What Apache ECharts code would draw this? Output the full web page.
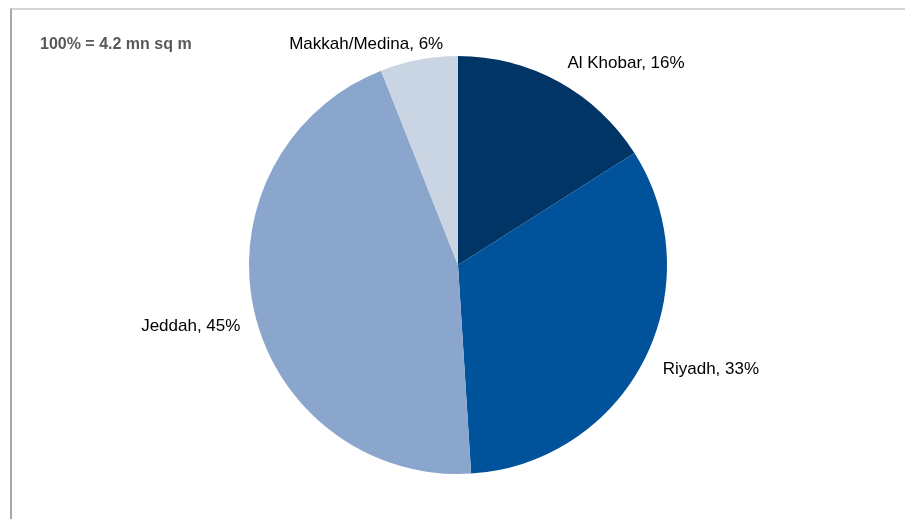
<!DOCTYPE html>
<html>
<head>
<meta charset="utf-8">
<script src="https://cdn.jsdelivr.net/npm/echarts@6/dist/echarts.min.js"></script>
<style>
  html, body { margin: 0; padding: 0; background: #fff; }
  #frame { position: absolute; left: 10px; top: 8px; right: 0; bottom: 0;
           border-top: 2px solid #d4d4d4; border-left: 2px solid #a6a6a6; }
  #chart { position: absolute; left: 0; top: 0; width: 905px; height: 519px; }
</style>
</head>
<body>
<div id="frame"></div>
<div id="chart"></div>
<script>
// pie slices, clockwise from 12 o'clock
const regions = ['Al Khobar', 'Riyadh', 'Jeddah', 'Makkah/Medina'];
const shares = [16, 33, 45, 6];
const sliceColors = ['#003565', '#00529b', '#8aa6cc', '#cad5e3'];
const totalNote = '100% = 4.2 mn sq m';

// small nudges so labels sit where the original put them
const labelNudge = [[-7, -6], [-3, 3], [9, 13], [36, -2]];

const chart = echarts.init(document.getElementById('chart'));
chart.setOption({
    animation: false,
    title: {
        text: totalNote, left: 35, top: 32,
        textStyle: { fontFamily: 'Liberation Sans', fontSize: 16, fontWeight: 'bold', color: '#595959' }
    },
    series: [{
        type: 'pie',
        center: [458, 265], radius: 209,
        startAngle: 90, clockwise: true,
        avoidLabelOverlap: false,
        itemStyle: { borderWidth: 0 },
        label: {
            show: true, position: 'outside',
            formatter: p => p.name + ', ' + p.value + '%',
            fontFamily: 'Liberation Sans', fontSize: 17, color: '#000'
        },
        labelLine: { show: false, length: 14, length2: 4 },
        labelLayout: p => ({ dx: labelNudge[p.dataIndex][0], dy: labelNudge[p.dataIndex][1] }),
        data: regions.map((r, i) => ({ name: r, value: shares[i], itemStyle: { color: sliceColors[i] } }))
    }]
});
</script>
</body>
</html>
